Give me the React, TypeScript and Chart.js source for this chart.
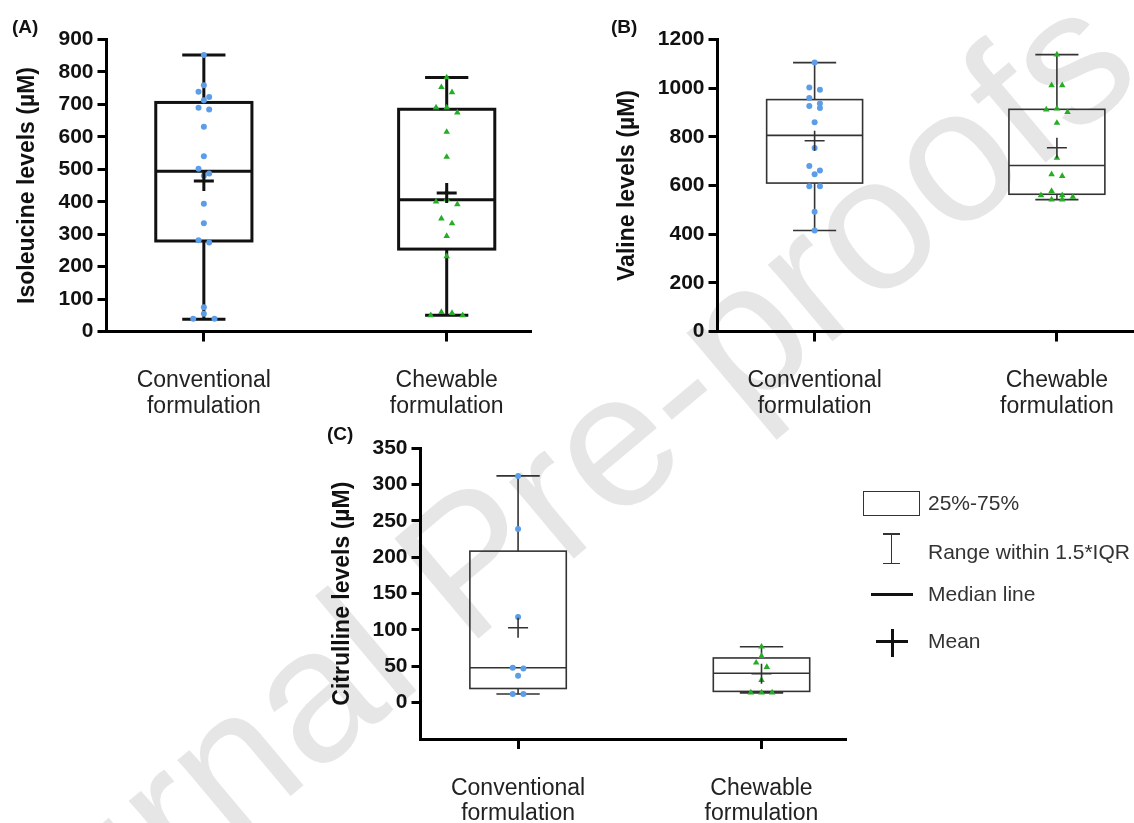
import React, { useEffect, useRef } from "react";
import { Chart, registerables } from "chart.js";

Chart.register(...registerables);

// ---------- data ----------
const categories = [
  ["Conventional", "formulation"],
  ["Chewable", "formulation"],
];

// Panel A – Isoleucine (µM)
const isoTicks = [0, 100, 200, 300, 400, 500, 600, 700, 800, 900];
const isoConventional = [852, 759, 739, 723, 713, 690, 684, 631, 540, 502, 487, 480, 394, 334, 281, 274, 75, 55, 39, 39];
const isoChewable = [783, 753, 737, 690, 690, 675, 615, 538, 430, 408, 400, 392, 348, 333, 294, 232, 60, 57, 50, 50];
// [whisker low, Q1, median, Q3, whisker high, mean]
const isoConventionalBox = [38, 279, 494, 706, 852, 464];
const isoChewableBox = [50, 254, 406, 685, 783, 427];

// Panel B – Valine (µM)
const valTicks = [0, 200, 400, 600, 800, 1000, 1200];
const valConventional = [1105, 1003, 994, 960, 937, 927, 919, 860, 754, 680, 662, 646, 597, 597, 492, 415];
const valChewable = [1138, 1012, 1012, 916, 912, 902, 857, 714, 646, 639, 577, 560, 560, 553, 542, 542];
const valConventionalBox = [415, 610, 806, 953, 1105, 784];
const valChewableBox = [542, 564, 682, 913, 1138, 755];

// Panel C – Citrulline (µM)
const citTicks = [0, 50, 100, 150, 200, 250, 300, 350];
const citConventional = [312, 239, 118, 48, 47, 37, 12, 12];
const citChewable = [77, 64, 55, 49, 31, 14, 14, 14];
const citConventionalBox = [12, 19.5, 48, 208.5, 312, 103];
const citChewableBox = [13.5, 15.5, 40.5, 61.5, 77, 39.75];

const legendItems = ["25%-75%", "Range within 1.5*IQR", "Median line", "Mean"];
const watermark = "Journal Pre-proofs";

// ---------- styling ----------
const FONT = "'Liberation Sans', Arial, Helvetica, sans-serif";
const BLUE = "#5b9de8";
const GREEN = "#26ad26";
const PLOT_PX = 291;
const CAT_PX = 242;
const X_H = 88;

function swarm(values: number[], center: number, rowSpan: number, step: number) {
  const idx = values.map((_, i) => i).sort((a, b) => values[b] - values[a]);
  const xs = new Array(values.length).fill(center);
  let i = 0;
  while (i < idx.length) {
    const start = values[idx[i]];
    let j = i;
    while (j < idx.length && start - values[idx[j]] < rowSpan) j++;
    const row = idx.slice(i, j);
    const slots = row.length % 2 ? [0, -1, 1, -2, 2, -3, 3, -4, 4] : [-0.5, 0.5, -1.5, 1.5, -2.5, 2.5, -3.5, 3.5];
    row.forEach((k, r) => {
      xs[k] = center + slots[r] * step;
    });
    i = j;
  }
  return xs;
}

type PanelDef = {
  key: string;
  x: number;
  y: number;
  w: number;
  h: number;
  area: { l: number; t: number; r: number; b: number };
  yW: number;
  yMin: number;
  yMax: number;
  ticks: number[];
  title: string;
  series: number[][];
  boxes: number[][];
  heavy: boolean;
};

const panels: PanelDef[] = [
  {
    key: "A", x: 0, y: 0, w: 560, h: 420,
    area: { l: 106.5, t: 39.5, r: 530, b: 331.5 }, yW: 92.3,
    yMin: 0, yMax: 900, ticks: isoTicks, title: "Isoleucine levels (µM)",
    series: [isoConventional, isoChewable], boxes: [isoConventionalBox, isoChewableBox], heavy: true,
  },
  {
    key: "B", x: 560, y: 0, w: 600, h: 420,
    area: { l: 157.5, t: 39.5, r: 580, b: 331.5 }, yW: 103.3,
    yMin: 0, yMax: 1200, ticks: valTicks, title: "Valine levels (µM)",
    series: [valConventional, valChewable], boxes: [valConventionalBox, valChewableBox], heavy: false,
  },
  {
    key: "C", x: 320, y: 420, w: 560, h: 420,
    area: { l: 100.5, t: 28.3, r: 525, b: 319 }, yW: 91.3,
    yMin: -50, yMax: 350, ticks: citTicks, title: "Citrulline levels (µM)",
    series: [citConventional, citChewable], boxes: [citConventionalBox, citChewableBox], heavy: false,
  },
];

function makeConfig(p: PanelDef) {
  const xMin = 1 - 97 / CAT_PX;
  const xMax = 2 + 83 / CAT_PX;
  const rowSpan = ((p.yMax - p.yMin) * 6) / PLOT_PX;
  const step = 10.6 / CAT_PX;
  const lw = p.heavy ? 3 : 1.6;
  const stroke = p.heavy ? "#111" : "#333";

  const boxPlugin = {
    id: "boxes" + p.key,
    beforeDatasetsDraw(chart: any) {
      const { ctx, scales } = chart;
      const xs = scales.x;
      const ys = scales.y;
      ctx.save();
      ctx.strokeStyle = stroke;
      ctx.lineWidth = lw;
      ctx.lineCap = "butt";
      p.boxes.forEach((b, i) => {
        const [lo, q1, med, q3, hi] = b;
        const cx = xs.getPixelForValue(i + 1);
        const bl = xs.getPixelForValue(i + 1 - 0.198);
        const br = xs.getPixelForValue(i + 1 + 0.198);
        const cl = xs.getPixelForValue(i + 1 - 0.089);
        const cr = xs.getPixelForValue(i + 1 + 0.089);
        const yLo = ys.getPixelForValue(lo);
        const yQ1 = ys.getPixelForValue(q1);
        const yMed = ys.getPixelForValue(med);
        const yQ3 = ys.getPixelForValue(q3);
        const yHi = ys.getPixelForValue(hi);
        ctx.beginPath();
        ctx.moveTo(cx, yHi);
        ctx.lineTo(cx, yQ3);
        ctx.moveTo(cx, yQ1);
        ctx.lineTo(cx, yLo);
        ctx.moveTo(cl, yHi);
        ctx.lineTo(cr, yHi);
        ctx.moveTo(cl, yLo);
        ctx.lineTo(cr, yLo);
        ctx.moveTo(bl, yMed);
        ctx.lineTo(br, yMed);
        ctx.stroke();
        ctx.strokeRect(bl, yQ3, br - bl, yQ1 - yQ3);
      });
      ctx.restore();
    },
    afterDatasetsDraw(chart: any) {
      const { ctx, scales } = chart;
      ctx.save();
      ctx.strokeStyle = stroke;
      ctx.lineWidth = lw;
      p.boxes.forEach((b, i) => {
        const cx = scales.x.getPixelForValue(i + 1);
        const cy = scales.y.getPixelForValue(b[5]);
        ctx.beginPath();
        ctx.moveTo(cx - 10, cy);
        ctx.lineTo(cx + 10, cy);
        ctx.moveTo(cx, cy - 10);
        ctx.lineTo(cx, cy + 10);
        ctx.stroke();
      });
      ctx.restore();
    },
  };

  const datasets = p.series.map((vals, i) => {
    const xs = swarm(vals, i + 1, rowSpan, step);
    return {
      data: vals.map((v, k) => ({ x: xs[k], y: v })),
      pointStyle: i === 0 ? "circle" : "triangle",
      pointRadius: i === 0 ? 3 : 3.8,
      backgroundColor: i === 0 ? BLUE : GREEN,
      borderColor: i === 0 ? BLUE : GREEN,
      borderWidth: 0,
      showLine: false,
    };
  });

  return {
    type: "scatter",
    data: { datasets },
    options: {
      animation: false,
      responsive: false,
      maintainAspectRatio: false,
      devicePixelRatio: 1,
      events: [],
      layout: {
        padding: {
          left: p.area.l - p.yW,
          top: p.area.t,
          right: p.w - p.area.r,
          bottom: p.h - p.area.b - X_H,
        },
      },
      plugins: { legend: { display: false }, tooltip: { enabled: false }, title: { display: false } },
      scales: {
        x: {
          type: "linear",
          min: xMin,
          max: xMax,
          afterBuildTicks: (s: any) => {
            s.ticks = categories.map((_, i) => ({ value: i + 1 }));
          },
          afterFit: (s: any) => {
            s.height = X_H;
            s.paddingLeft = 0;
            s.paddingRight = 0;
          },
          ticks: {
            autoSkip: false,
            maxRotation: 0,
            minRotation: 0,
            padding: 27,
            color: "#222",
            font: { family: FONT, size: 23, weight: "normal", lineHeight: 1.1 },
            callback: (v: any) => categories[Math.round(v) - 1] || "",
          },
          grid: { display: true, drawOnChartArea: false, drawTicks: true, tickLength: 10, lineWidth: 3, color: "#000" },
          border: { display: true, width: 3, color: "#000" },
        },
        y: {
          type: "linear",
          min: p.yMin,
          max: p.yMax,
          afterBuildTicks: (s: any) => {
            const t = p.yMin < 0 ? [p.yMin, ...p.ticks] : p.ticks;
            s.ticks = t.map((v) => ({ value: v }));
          },
          afterFit: (s: any) => {
            s.width = p.yW;
            s.paddingTop = 0;
            s.paddingBottom = 0;
          },
          title: {
            display: true,
            text: p.title,
            color: "#111",
            padding: 0,
            font: { family: FONT, size: 23, weight: "bold" },
          },
          ticks: {
            padding: 4,
            color: "#111",
            font: { family: FONT, size: 21, weight: "bold" },
            callback: (v: any) => (v < 0 ? "" : String(v)),
          },
          grid: {
            display: true,
            drawOnChartArea: false,
            drawTicks: true,
            tickLength: 9,
            lineWidth: 3,
            color: "#000",
            tickColor: (c: any) => (c.tick && c.tick.value < 0 ? "rgba(0,0,0,0)" : "#000"),
          },
          border: { display: true, width: 3, color: "#000" },
        },
      },
    },
    plugins: [boxPlugin],
  };
}

function Panel({ p }: { p: PanelDef }) {
  const ref = useRef<HTMLCanvasElement>(null);
  useEffect(() => {
    if (!ref.current) return;
    const chart = new Chart(ref.current, makeConfig(p) as any);
    return () => chart.destroy();
  }, [p]);
  return (
    <canvas
      ref={ref}
      width={p.w}
      height={p.h}
      style={{ position: "absolute", left: p.x, top: p.y, width: p.w, height: p.h }}
    />
  );
}

const tagStyle = (left: number, top: number): React.CSSProperties => ({
  position: "absolute",
  left,
  top,
  font: `bold 19px ${FONT}`,
  color: "#111",
  lineHeight: "20px",
});

const legendText = (top: number): React.CSSProperties => ({
  position: "absolute",
  left: 928,
  top: top - 12,
  height: 24,
  lineHeight: "24px",
  font: `21px ${FONT}`,
  color: "#333",
  whiteSpace: "nowrap",
});

const bar = (left: number, top: number, width: number, height: number, color = "#222"): React.CSSProperties => ({
  position: "absolute",
  left,
  top,
  width,
  height,
  background: color,
});

export default function App() {
  return (
    <div
      style={{
        position: "fixed",
        left: 0,
        top: 0,
        width: 1134,
        height: 823,
        overflow: "hidden",
        background: "#fff",
      }}
    >
      <div
        style={{
          position: "absolute",
          left: 505,
          top: 530,
          transform: "translate(-50%, -50%) rotate(-40deg)",
          font: `190px ${FONT}`,
          color: "#e6e6e6",
          whiteSpace: "nowrap",
          lineHeight: "1",
        }}
      >
        {watermark}
      </div>
      {panels.map((p) => (
        <Panel key={p.key} p={p} />
      ))}
      <div style={tagStyle(12, 17)}>(A)</div>
      <div style={tagStyle(611, 17)}>(B)</div>
      <div style={tagStyle(327, 424)}>(C)</div>

      {/* legend */}
      <div
        style={{
          position: "absolute",
          left: 862.5,
          top: 490.5,
          width: 57,
          height: 25,
          border: "1.5px solid #333",
          boxSizing: "border-box",
        }}
      />
      <div style={legendText(503)}>{legendItems[0]}</div>
      <div style={bar(890.5, 533, 1.5, 31, "#333")} />
      <div style={bar(883, 533, 17, 1.5, "#333")} />
      <div style={bar(883, 562.5, 17, 1.5, "#333")} />
      <div style={legendText(551.5)}>{legendItems[1]}</div>
      <div style={bar(871, 592.5, 42, 3, "#111")} />
      <div style={legendText(594)}>{legendItems[2]}</div>
      <div style={bar(876, 639.5, 32, 3, "#111")} />
      <div style={bar(890.5, 629, 3, 28, "#111")} />
      <div style={legendText(641)}>{legendItems[3]}</div>
    </div>
  );
}
